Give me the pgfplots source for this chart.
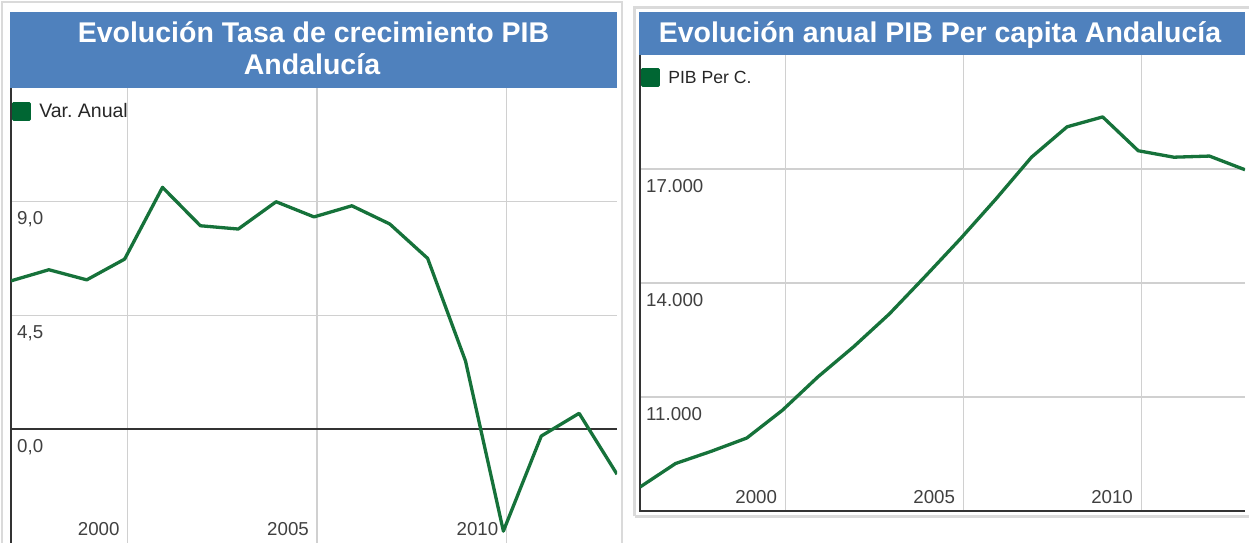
\documentclass[border=0pt]{standalone}
\usepackage{fontspec}
\setmainfont{Liberation Sans}
\usepackage{pgfplots}
\pgfplotsset{compat=1.18}
\definecolor{titleblue}{RGB}{79,129,189}
\definecolor{pibgreen}{RGB}{22,114,58}
\definecolor{legendgreen}{RGB}{0,102,51}
\definecolor{gridgray}{RGB}{208,208,208}
\definecolor{framegray}{RGB}{218,218,218}
\definecolor{labelgray}{RGB}{64,64,64}
\definecolor{axisdark}{RGB}{51,51,51}

\pgfplotsset{
  panel/.style={
    scale only axis,
    anchor=south west,
    clip mode=individual,
    axis line style={draw=none},
    major tick length=0pt,
    grid=major,
    grid style={gridgray, line width=1.2bp},
    scaled y ticks=false,
    tick label style={font=\fontsize{18.7bp}{20bp}\selectfont, text=labelgray, inner sep=0pt},
    yticklabel style={anchor=north west, xshift=6bp, yshift=-10bp},
    xticklabel style={anchor=south east, xshift=-8bp, yshift=7.5bp},
    xtick={2000.08,2005.08,2010.08},
    xticklabels={2000,2005,2010},
    legend image code/.code={\fill[legendgreen] (0bp,-8bp) rectangle (16bp,8bp);},
    legend style={draw=none, fill=none, inner sep=0pt, outer sep=0pt,
      anchor=north west, at={(rel axis cs:0,1)}, text=black!85,
      nodes={inner sep=0pt}, column sep=8bp},
  },
}

\begin{document}
\frenchspacing
\begin{tikzpicture}[x=1bp, y=1bp]
\useasboundingbox (0,0) rectangle (1249,543);
\clip (0,0) rectangle (1249,543);

% left panel
\draw[framegray, line width=2bp] (2,-5) -- (2,541) -- (622,541) -- (622,-5);
\fill[titleblue] (10,455) rectangle (617,531);
\node[text=white, font=\fontsize{28.5bp}{32bp}\selectfont\bfseries, anchor=base] at (313.5,500.5) {Evolución Tasa de crecimiento PIB};
\node[text=white, font=\fontsize{28.5bp}{32bp}\selectfont\bfseries, anchor=base] at (312,468) {Andalucía};

\begin{axis}[panel, at={(11bp,0bp)}, width=606bp, height=455bp,
  xmin=1997, xmax=2013, ymin=-4.5, ymax=13.5,
  ytick={0,4.5,9}, yticklabels={{0,0},{4,5},{9,0}},
  legend style={font=\fontsize{19.5bp}{21bp}\selectfont, xshift=1bp, yshift=-14bp}]
\draw[axisdark, line width=1.5bp] (axis cs:1997,0) -- (axis cs:2013,0);
\draw[axisdark, line width=2bp] (rel axis cs:0,0) -- (rel axis cs:0,1);
\addplot[pibgreen, line width=3.3bp, line join=round] coordinates {
  (1997,5.87) (1998,6.31) (1999,5.91) (2000,6.73) (2001,9.57) (2002,8.05)
  (2003,7.92) (2004,9.00) (2005,8.40) (2006,8.84) (2007,8.12) (2008,6.76)
  (2009,2.70) (2010,-4.03) (2011,-0.27) (2012,0.63) (2013,-1.78)
};
\addlegendentry{Var. Anual}
\end{axis}

% right panel
\draw[framegray, line width=2.5bp] (634.5,26.5) -- (634.5,535.5) -- (1252,535.5);
\draw[framegray, line width=2.5bp] (634.5,26.5) -- (1252,26.5);
\fill[titleblue] (639,488) rectangle (1245,531);
\node[text=white, font=\fontsize{28.5bp}{32bp}\selectfont\bfseries, anchor=base] at (940,500.5) {Evolución anual PIB Per capita Andalucía};

\begin{axis}[panel, at={(640bp,32bp)}, width=605bp, height=456bp,
  xmin=1996, xmax=2013, ymin=8000, ymax=20000,
  ytick={11000,14000,17000}, yticklabels={11.000,14.000,17.000},
  legend style={font=\fontsize{17.6bp}{19bp}\selectfont, xshift=1bp, yshift=-13bp}]
\draw[axisdark, line width=2bp] (rel axis cs:0,1) -- (rel axis cs:0,0) -- (rel axis cs:1,0);
\addplot[pibgreen, line width=3.3bp, line join=round] coordinates {
  (1996,8630) (1997,9250) (1998,9570) (1999,9920) (2000,10650) (2001,11530)
  (2002,12320) (2003,13180) (2004,14160) (2005,15160) (2006,16210) (2007,17310)
  (2008,18110) (2009,18370) (2010,17480) (2011,17310) (2012,17340) (2013,16980)
};
\addlegendentry{PIB Per C.}
\end{axis}
\end{tikzpicture}
\end{document}
